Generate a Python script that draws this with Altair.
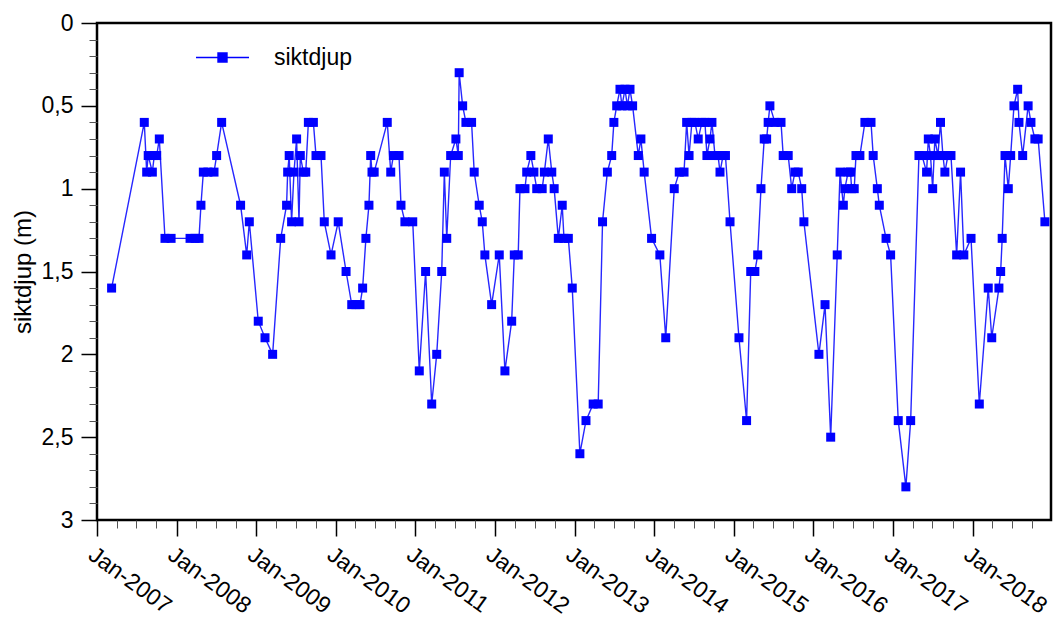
import altair as alt
import pandas as pd

# ---- data ----
dates = [
    "2007-03-09", "2007-08-06", "2007-08-17", "2007-08-24", "2007-09-12", "2007-09-21", "2007-10-02", "2007-10-14", "2007-11-09", "2007-12-07",
    "2008-03-03", "2008-03-26", "2008-04-13", "2008-04-22", "2008-05-03", "2008-05-24", "2008-06-21", "2008-07-03", "2008-07-26", "2008-10-21", "2008-11-18", "2008-11-30",
    "2009-01-10", "2009-02-10", "2009-03-17", "2009-04-23", "2009-05-20", "2009-05-25", "2009-06-01", "2009-06-12", "2009-06-23", "2009-07-05", "2009-07-16", "2009-07-22", "2009-08-05", "2009-08-16", "2009-08-28", "2009-09-20", "2009-10-02", "2009-10-25", "2009-11-09", "2009-12-10",
    "2010-01-12", "2010-02-17", "2010-03-15", "2010-04-03", "2010-04-22", "2010-05-04", "2010-05-19", "2010-06-02", "2010-06-10", "2010-06-16", "2010-06-26", "2010-08-25", "2010-09-10", "2010-09-22", "2010-10-18", "2010-10-27", "2010-11-14", "2010-12-20",
    "2011-01-19", "2011-02-17", "2011-03-17", "2011-04-09", "2011-05-02", "2011-05-14", "2011-05-25", "2011-06-12", "2011-07-06", "2011-07-17", "2011-07-21", "2011-08-06", "2011-08-21", "2011-09-16", "2011-09-28", "2011-10-21", "2011-11-04", "2011-11-16", "2011-12-17",
    "2012-01-21", "2012-02-16", "2012-03-18", "2012-03-30", "2012-04-17", "2012-04-25", "2012-05-18", "2012-05-26", "2012-06-14", "2012-06-28", "2012-07-11", "2012-08-05", "2012-08-15", "2012-09-02", "2012-09-18", "2012-09-29", "2012-10-18", "2012-11-05", "2012-11-13", "2012-12-03", "2012-12-21",
    "2013-01-25", "2013-02-22", "2013-03-27", "2013-04-19", "2013-05-09", "2013-05-31", "2013-06-20", "2013-06-30", "2013-07-13", "2013-07-28", "2013-08-06", "2013-08-20", "2013-08-31", "2013-09-12", "2013-09-24", "2013-10-20", "2013-11-01", "2013-11-16", "2013-12-20",
    "2014-01-27", "2014-02-23", "2014-04-03", "2014-04-26", "2014-05-18", "2014-05-30", "2014-06-10", "2014-06-23", "2014-07-07", "2014-07-22", "2014-08-08", "2014-08-22", "2014-08-31", "2014-09-14", "2014-09-23", "2014-10-07", "2014-10-21", "2014-10-30", "2014-11-13", "2014-11-24", "2014-12-15",
    "2015-01-25", "2015-03-01", "2015-03-20", "2015-04-08", "2015-04-21", "2015-05-06", "2015-05-21", "2015-06-01", "2015-06-08", "2015-06-16", "2015-07-09", "2015-08-06", "2015-08-16", "2015-09-08", "2015-09-24", "2015-10-09", "2015-10-24", "2015-11-09", "2015-11-19",
    "2016-01-27", "2016-02-24", "2016-03-21", "2016-04-20", "2016-05-03", "2016-05-18", "2016-05-25", "2016-06-09", "2016-06-20", "2016-06-25", "2016-07-07", "2016-07-15", "2016-08-02", "2016-08-25", "2016-09-22", "2016-10-02", "2016-10-21", "2016-10-30", "2016-11-30", "2016-12-21",
    "2017-01-25", "2017-03-01", "2017-03-23", "2017-04-30", "2017-05-14", "2017-06-04", "2017-06-12", "2017-06-22", "2017-07-02", "2017-07-12", "2017-07-26", "2017-08-07", "2017-08-18", "2017-08-27", "2017-09-10", "2017-09-24", "2017-10-20", "2017-11-07", "2017-11-22", "2017-12-25",
    "2018-02-01", "2018-03-14", "2018-03-30", "2018-05-02", "2018-05-10", "2018-05-17", "2018-05-30", "2018-06-14", "2018-06-25", "2018-07-10", "2018-07-27", "2018-08-02", "2018-08-19", "2018-09-13", "2018-09-26", "2018-10-14", "2018-10-29", "2018-11-29",
]

depth = [
    1.6, 0.6, 0.9, 0.8, 0.9, 0.8, 0.8, 0.7, 1.3, 1.3,
    1.3, 1.3, 1.3, 1.1, 0.9, 0.9, 0.9, 0.8, 0.6, 1.1, 1.4, 1.2,
    1.8, 1.9, 2.0, 1.3, 1.1, 0.9, 0.8, 1.2, 0.9, 0.7, 1.2, 0.8, 0.9, 0.9, 0.6, 0.6, 0.8, 0.8, 1.2, 1.4,
    1.2, 1.5, 1.7, 1.7, 1.7, 1.6, 1.3, 1.1, 0.8, 0.9, 0.9, 0.6, 0.9, 0.8, 0.8, 1.1, 1.2, 1.2,
    2.1, 1.5, 2.3, 2.0, 1.5, 0.9, 1.3, 0.8, 0.7, 0.8, 0.3, 0.5, 0.6, 0.6, 0.9, 1.1, 1.2, 1.4, 1.7,
    1.4, 2.1, 1.8, 1.4, 1.4, 1.0, 1.0, 0.9, 0.8, 0.9, 1.0, 1.0, 0.9, 0.7, 0.9, 1.0, 1.3, 1.1, 1.3, 1.3, 1.6,
    2.6, 2.4, 2.3, 2.3, 1.2, 0.9, 0.8, 0.6, 0.5, 0.4, 0.5, 0.4, 0.5, 0.4, 0.5, 0.8, 0.7, 0.9, 1.3,
    1.4, 1.9, 1.0, 0.9, 0.9, 0.6, 0.8, 0.6, 0.6, 0.7, 0.6, 0.6, 0.8, 0.7, 0.6, 0.8, 0.8, 0.9, 0.8, 0.8, 1.2,
    1.9, 2.4, 1.5, 1.5, 1.4, 1.0, 0.7, 0.7, 0.6, 0.5, 0.6, 0.6, 0.8, 0.8, 1.0, 0.9, 0.9, 1.0, 1.2,
    2.0, 1.7, 2.5, 1.4, 0.9, 1.1, 1.0, 0.9, 0.9, 1.0, 1.0, 0.8, 0.8, 0.6, 0.6, 0.8, 1.0, 1.1, 1.3, 1.4,
    2.4, 2.8, 2.4, 0.8, 0.8, 0.9, 0.7, 0.8, 1.0, 0.7, 0.8, 0.6, 0.8, 0.9, 0.8, 0.8, 1.4, 0.9, 1.4, 1.3,
    2.3, 1.6, 1.9, 1.6, 1.5, 1.3, 0.8, 1.0, 0.8, 0.5, 0.4, 0.6, 0.8, 0.5, 0.6, 0.7, 0.7, 1.2,
]

series_name = "siktdjup"
y_title = "siktdjup (m)"
major_years = [2007, 2008, 2009, 2010, 2011, 2012, 2013, 2014, 2015, 2016, 2017, 2018]
minor_months = [4, 7, 10]
y_major = [0, 0.5, 1, 1.5, 2, 2.5, 3]
y_minor = [0.1, 0.2, 0.3, 0.4, 0.6, 0.7, 0.8, 0.9, 1.1, 1.2, 1.3, 1.4, 1.6, 1.7, 1.8, 1.9,
           2.1, 2.2, 2.3, 2.4, 2.6, 2.7, 2.8, 2.9]

assert len(dates) == len(depth)

df = pd.DataFrame({"datum": dates, "siktdjup": depth, "serie": series_name})

FONT = "Liberation Sans"
BLUE = "#0000ff"
FS = 23

x_scale = alt.Scale(domain=[alt.DateTime(year=2007, month=1, date=1),
                            alt.DateTime(year=2018, month=12, date=27)])
y_scale = alt.Scale(domain=[0, 3], reverse=True, nice=False, zero=False)

x_major_axis = alt.Axis(
    values=[alt.DateTime(year=y, month=1, date=1) for y in major_years],
    format="%b-%Y", labelAngle=36, labelAlign="left", labelBaseline="top",
    labelFontSize=FS, labelFont=FONT, labelColor="black", labelPadding=7,
    tickSize=16, tickWidth=1.5, tickColor="black", domain=False, grid=False,
    title=None, orient="bottom", labelOverlap=False,
)
x_minor_axis = alt.Axis(
    values=[alt.DateTime(year=y, month=m, date=1) for y in major_years for m in minor_months],
    labels=False, tickSize=8, tickWidth=1, tickColor="#555555",
    domain=False, grid=False, title=None, orient="bottom",
)
y_major_axis = alt.Axis(
    values=y_major, format="~g", labelExpr="replace(datum.label, '.', ',')",
    labelFontSize=FS, labelFont=FONT, labelColor="black", labelPadding=8,
    tickSize=16, tickWidth=1.5, tickColor="black", domain=False, grid=False,
    title=y_title, titleFontSize=24, titleFont=FONT, titleFontWeight="normal",
    titleColor="black", titlePadding=6, orient="left",
)
y_minor_axis = alt.Axis(
    values=y_minor, labels=False, tickSize=8, tickWidth=1, tickColor="#555555",
    domain=False, grid=False, title=None, orient="left",
)

base = alt.Chart(df)

line = base.mark_line(color=BLUE, strokeWidth=1.4, opacity=0.85).encode(
    x=alt.X("datum:T", scale=x_scale, axis=x_major_axis),
    y=alt.Y("siktdjup:Q", scale=y_scale, axis=y_major_axis),
)

points = base.mark_point(shape="square", filled=True, size=81, opacity=1).encode(
    x=alt.X("datum:T", scale=x_scale, axis=x_minor_axis),
    y=alt.Y("siktdjup:Q", scale=y_scale, axis=y_minor_axis),
    color=alt.Color(
        "serie:N",
        scale=alt.Scale(range=[BLUE]),
        legend=alt.Legend(
            title=None, orient="none", legendX=98, legendY=7, padding=0,
            symbolType="M-1,0L1,0M-0.17,-0.17L0.17,-0.17L0.17,0.17L-0.17,0.17Z",
            symbolSize=2809, symbolStrokeWidth=1.4, symbolStrokeColor=BLUE,
            symbolFillColor=BLUE, symbolOpacity=1,
            labelFontSize=FS, labelFont=FONT, labelColor="black", labelOffset=24,
        ),
    ),
)

chart = (
    alt.layer(line, points)
    .resolve_axis(x="independent", y="independent")
    .properties(
        width=954, height=497,
        autosize=alt.AutoSizeParams(type="none"),
        padding={"left": 97, "top": 23, "right": 4, "bottom": 97},
    )
    .configure(font=FONT, background="white")
    .configure_view(stroke="black", strokeWidth=2.5)
)

chart.save("out.html", embed_options={"renderer": "svg", "actions": False})
